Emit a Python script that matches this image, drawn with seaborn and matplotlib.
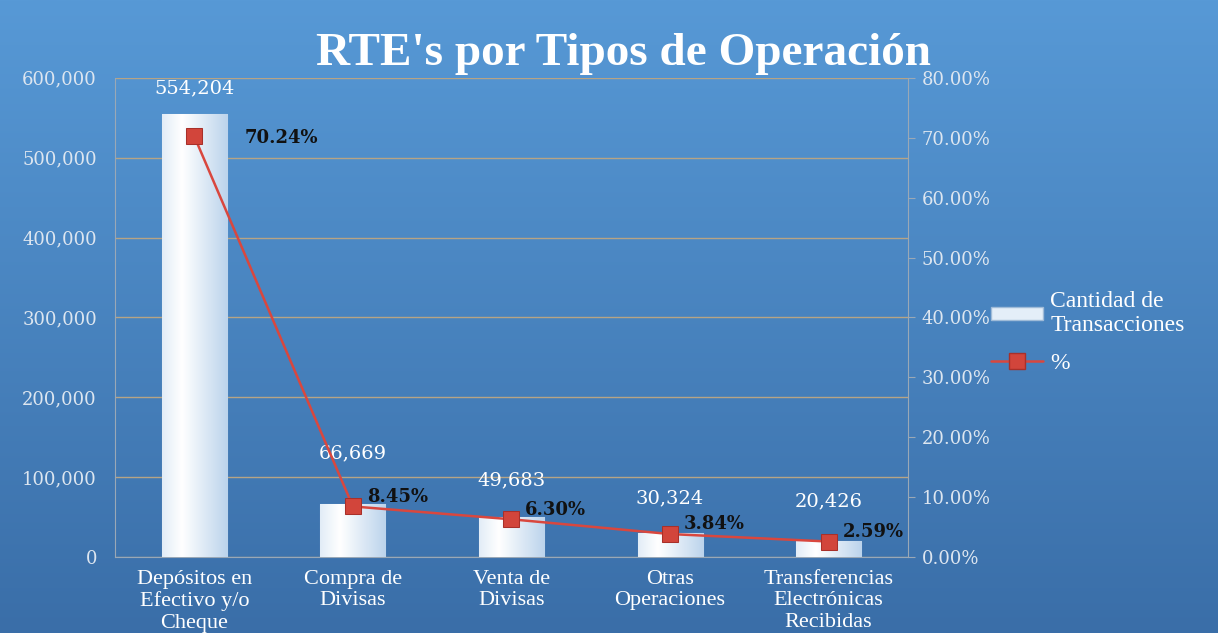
import numpy as np
import pandas as pd
import matplotlib
matplotlib.use('Agg')
import matplotlib.pyplot as plt
import seaborn as sns
from matplotlib.ticker import FuncFormatter
from matplotlib.patches import Patch
from matplotlib.lines import Line2D

categorias = ['Depósitos en\nEfectivo y/o\nCheque', 'Compra de\nDivisas', 'Venta de\nDivisas',
              'Otras\nOperaciones', 'Transferencias\nElectrónicas\nRecibidas']
cantidad = [554204, 66669, 49683, 30324, 20426]
porcentaje = [70.24, 8.45, 6.30, 3.84, 2.59]

df = pd.DataFrame({'tipo': categorias, 'cantidad': cantidad, 'pct': porcentaje})

sns.set_style('white')
plt.rcParams['font.family'] = ['Liberation Serif', 'DejaVu Serif']
num_font = 'DejaVu Serif'

fig = plt.figure(figsize=(12.18, 6.33), dpi=100)

# fondo azul degradado
bg = fig.add_axes([0, 0, 1, 1], zorder=-10)
grad = np.linspace(0, 1, 256).reshape(-1, 1)
bg_cmap = matplotlib.colors.LinearSegmentedColormap.from_list('bg', ['#5799d6', '#3a6ea8'])
bg.imshow(grad, aspect='auto', cmap=bg_cmap, extent=[0, 1, 0, 1], origin='upper')
bg.axis('off')

ax = fig.add_axes([0.0944, 0.12, 0.651, 0.757])
ax.patch.set_alpha(0)

sns.barplot(data=df, x='tipo', y='cantidad', ax=ax, width=0.41, color='#e4eef8',
            edgecolor='#9fbbd8', linewidth=0.8, zorder=3)

# degradado en las barras
bar_cmap = matplotlib.colors.LinearSegmentedColormap.from_list('bar', ['#ffffff', '#bcd4ec'])
hgrad = np.linspace(0, 1, 64).reshape(1, -1)
hgrad = np.abs(hgrad - 0.3) / 0.7
for p in ax.patches:
    x0, y0 = p.get_x(), p.get_y()
    w, h = p.get_width(), p.get_height()
    im = ax.imshow(hgrad, aspect='auto', cmap=bar_cmap, extent=[x0, x0 + w, y0, y0 + h],
                   zorder=3.5)
    im.set_clip_path(p)

ax.set_xlim(-0.5, 4.5)
ax.set_ylim(0, 600000)
ax.set_yticks(np.arange(0, 600001, 100000))
ax.yaxis.set_major_formatter(FuncFormatter(lambda v, _: f'{int(v):,}'))
ax.grid(axis='y', color='#b7a485', linewidth=1.0, zorder=0)
ax.set_axisbelow(True)
ax.set_xlabel('')
ax.set_ylabel('')
ax.tick_params(axis='y', colors='#dde6f0', labelsize=13, length=0, pad=13)
for t in ax.get_yticklabels():
    t.set_family(num_font)
for s in ['top', 'right']:
    ax.spines[s].set_visible(False)
ax.spines['left'].set_color('#9aa8b6')
ax.spines['bottom'].set_color('#9aa8b6')
ax.set_xticks(np.arange(-0.5, 5, 1), minor=True)
ax.tick_params(axis='x', which='major', length=0, labelcolor='white', labelsize=16, pad=9)
ax.tick_params(axis='x', which='minor', length=5, colors='#b0b8c0')
ax.set_xticklabels(categorias, linespacing=1.2)

offs_cant = [12, 30, 20, 18, 22]
for i, v in enumerate(cantidad):
    ax.annotate(f'{v:,}', (i, v), xytext=(0, offs_cant[i]), textcoords='offset points',
                ha='center', va='bottom', color='white', fontsize=14, family=num_font)

ax2 = ax.twinx()
sns.lineplot(x=np.arange(len(porcentaje)), y=porcentaje, ax=ax2, color='#d9473e',
             linewidth=1.8, marker='s', markersize=12, markerfacecolor='#d2453b',
             markeredgecolor='#a8302a', zorder=5, legend=False)
ax2.set_ylim(0, 80)
ax2.set_yticks(np.arange(0, 81, 10))
ax2.yaxis.set_major_formatter(FuncFormatter(lambda v, _: f'{v:.2f}%'))
ax2.tick_params(axis='y', colors='#9aa8b6', labelcolor='#dde6f0', labelsize=13, length=5,
                direction='out', pad=5)
for t in ax2.get_yticklabels():
    t.set_family(num_font)
for s in ['top', 'left', 'bottom']:
    ax2.spines[s].set_visible(False)
ax2.spines['right'].set_color('#9aa8b6')
ax2.set_ylabel('')

for i, v in enumerate(porcentaje):
    dx, dy = (36, -1) if i == 0 else (10, 7)
    ax2.annotate(f'{v:.2f}%', (i, v), xytext=(dx, dy), textcoords='offset points',
                 ha='left', va='center', color='#111111', fontsize=13,
                 fontweight='bold', family=num_font)

fig.text(0.512, 0.915, "RTE's por Tipos de Operación", ha='center', va='center',
         color='white', fontsize=34, fontweight='bold')

handles = [Patch(facecolor='#e4eef8', edgecolor='#9fbbd8', label='Cantidad de\nTransacciones'),
           Line2D([0], [0], color='#d9473e', linewidth=1.8, marker='s', markersize=12,
                  markerfacecolor='#d2453b', markeredgecolor='#a8302a', label='%')]
fig.legend(handles=handles, loc='upper left', bbox_to_anchor=(0.806, 0.555),
           frameon=False, fontsize=17, labelcolor='white', handlelength=2.2,
           labelspacing=0.7, handleheight=0.45, borderaxespad=0, handletextpad=0.3)

fig.savefig('out.png', dpi=100)
